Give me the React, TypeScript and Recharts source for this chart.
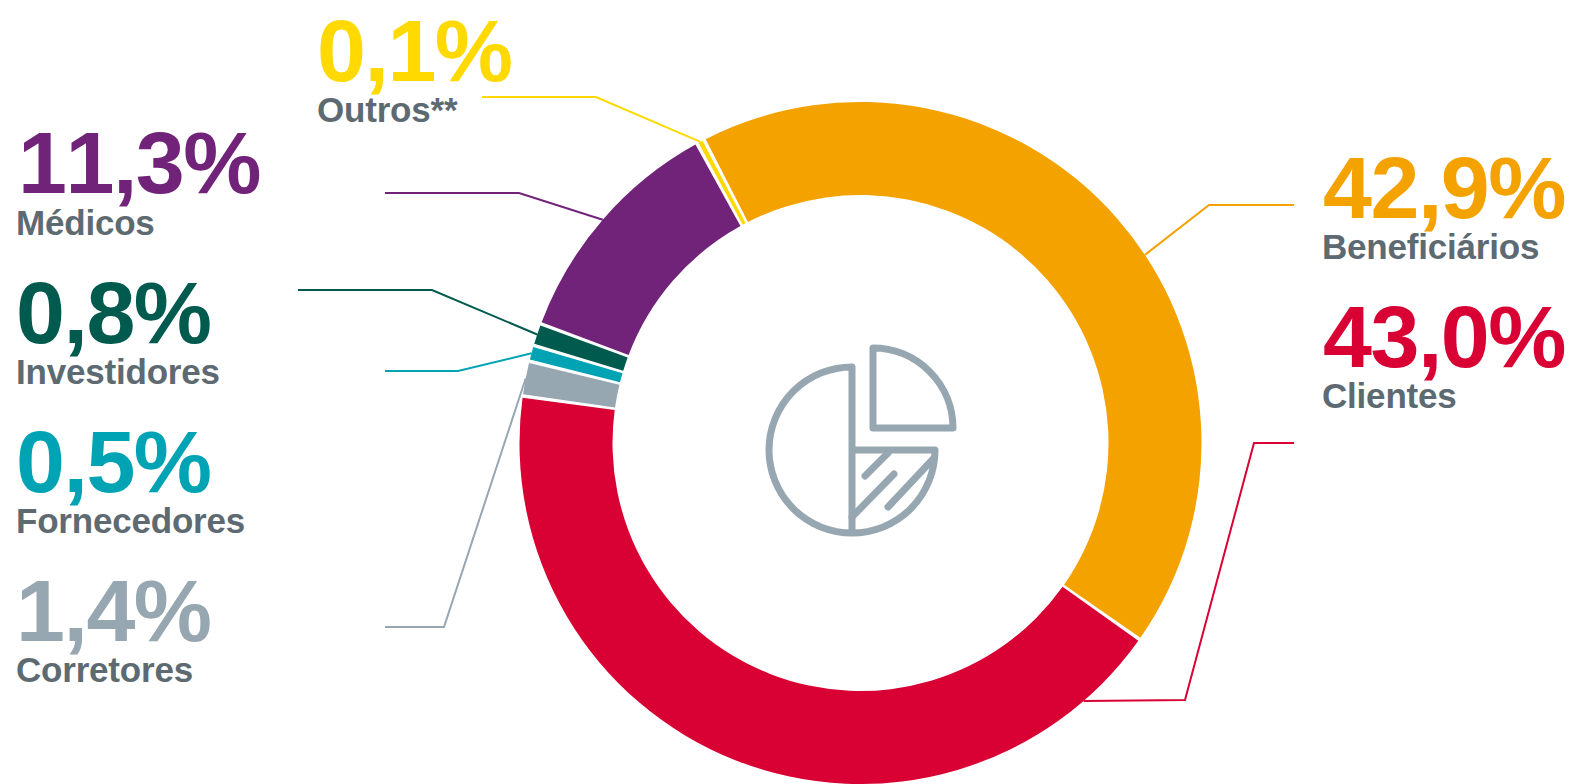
import React from 'react';
import { PieChart, Pie, Cell } from 'recharts';

const categories = ['Beneficiários', 'Clientes', 'Corretores', 'Fornecedores', 'Investidores', 'Médicos', 'Outros**'];
const shares = [42.9, 43.0, 1.4, 0.5, 0.8, 11.3, 0.1];
const colors = ['#f4a200', '#d90033', '#97a7b1', '#00a3b4', '#005a4e', '#702378', '#ffd900'];

const chartData = categories.map((name, i) => ({ name, share: shares[i] }));

// where each caption block sits: left edges and baselines of number and name
const numberX = [1323, 1323, 16, 16, 16, 18, 317];
const nameX = [1322, 1322, 16, 16, 16, 16, 317];
const numberY = [218, 367, 641, 492, 343, 193, 81];
const nameY = [259, 408, 682, 533, 384, 235, 122];

// leader lines: fixed run from the caption, then how far along the slice they land
const leaderRuns = [
  '1294,205 1209,205',
  '1294,443 1254,443 1185,700',
  '385,627 444,627',
  '385,371 458,371',
  '298,290 432,290',
  '385,193 519,193',
  '482,97 596,97',
];
const leaderAlong = [0.55, 0.09, 0.5, 0.5, 0.5, 0.5, 0.5];

const RAD = Math.PI / 180;
const TEXT_GRAY = '#5e6a71';
const FONT = '"Liberation Sans", Arial, sans-serif';

const formatShare = (v: number) => `${v.toFixed(1).replace('.', ',')}%`;

// draws the leader and the caption of one slice
const renderCaption = (props: any) => {
  const { index, cx, cy, outerRadius, startAngle, endAngle } = props;
  const angle = startAngle + (endAngle - startAngle) * leaderAlong[index];
  const tipX = cx + outerRadius * Math.cos(angle * RAD);
  const tipY = cy - outerRadius * Math.sin(angle * RAD);
  return (
    <g key={categories[index]}>
      <polyline points={`${leaderRuns[index]} ${tipX},${tipY}`} fill="none" stroke={colors[index]} strokeWidth={2} />
      <text
        x={numberX[index]}
        y={numberY[index]}
        fill={colors[index]}
        fontFamily={FONT}
        fontSize={88}
        fontWeight={700}
        letterSpacing={-1.5}
        style={{ fontKerning: 'none' }}
      >
        {formatShare(shares[index])}
      </text>
      <text x={nameX[index]} y={nameY[index]} fill={TEXT_GRAY} fontFamily={FONT} fontSize={35} fontWeight={700} letterSpacing={-0.2}>
        {categories[index]}
      </text>
    </g>
  );
};

const PieIcon = () => (
  <g fill="none" stroke="#97a7b1" strokeWidth={7} strokeLinejoin="round" strokeLinecap="round">
    <path d="M852 450 V367 A83 83 0 1 0 935 450 H852 V533" />
    <path d="M873 348 A80 80 0 0 1 953 428 H873 Z" />
    <path d="M888 453 L865 476 M894 474 L852 517 M934 458 L888 507" />
  </g>
);

export default function App() {
  return (
    <div style={{ position: 'absolute', left: 0, top: 0, width: 1569, height: 784, background: '#fff', overflow: 'hidden' }}>
      <PieChart width={1569} height={784} margin={{ top: 0, right: 0, bottom: 0, left: 0 }}>
        <Pie
          data={chartData}
          dataKey="share"
          nameKey="name"
          cx={860.5}
          cy={443}
          innerRadius={248}
          outerRadius={341}
          startAngle={117}
          endAngle={-243}
          paddingAngle={0.6}
          minAngle={0.4}
          stroke="none"
          isAnimationActive={false}
          label={renderCaption}
          labelLine={false}
        >
          {chartData.map((d, i) => (
            <Cell key={d.name} fill={colors[i]} />
          ))}
        </Pie>
        <PieIcon />
      </PieChart>
    </div>
  );
}
